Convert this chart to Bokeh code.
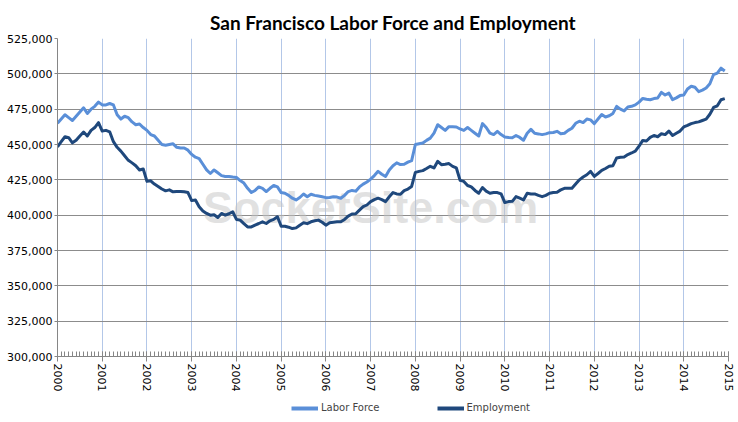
import pandas as pd
from bokeh.plotting import figure
from bokeh.layouts import column
from bokeh.models import FixedTicker, NumeralTickFormatter, Legend, LegendItem, Range1d, Label
from bokeh.embed import file_html
from bokeh.resources import INLINE

chart_title = "San Francisco Labor Force and Employment"
months = pd.date_range("2000-01-01", "2014-12-01", freq="MS")

labor_force = [
    465000, 468000, 471000, 469000, 467000, 470000, 473000, 476000, 472000, 475000, 477000, 480000,
    478000, 478000, 479000, 478000, 471000, 468000, 470000, 469000, 466000, 464000, 464500, 462000,
    460000, 457000, 456000, 453000, 450000, 449500, 450000, 450500, 448000, 447500, 447500, 446000,
    443000, 441000, 440000, 436000, 432000, 429500, 432000, 430000, 428000, 427400, 427400, 427000,
    426700, 424500, 422700, 419000, 416000, 417500, 420000, 419000, 416700, 419000, 421000, 420000,
    416000, 415500, 414000, 412000, 410800, 412500, 415000, 413000, 414800, 414000, 413500, 413000,
    412400, 412500, 413000, 412800, 412000, 414000, 416700, 417500, 417000, 420000, 422000, 423500,
    425500, 428000, 431000, 429000, 427400, 432000, 435000, 437000, 435800, 436000, 437500, 438600,
    450000, 450500, 451000, 452900, 454500, 458000, 464000, 462000, 460000, 462600, 462500, 462400,
    461000, 460000, 462000, 460000, 458000, 456000, 464800, 462000, 458000, 457000, 459300, 457000,
    455300, 455000, 454800, 456400, 455000, 453000, 458000, 460700, 457900, 457500, 457000, 457500,
    458400, 458500, 459300, 457600, 458000, 460000, 461500, 465000, 466500, 465500, 468000, 467400,
    464800, 468000, 471200, 469500, 470300, 472000, 477000, 475000, 473800, 476500, 477000, 478000,
    480000, 482600, 482000, 481700, 482500, 482900, 486900, 485000, 486400, 481700, 483000, 484600,
    485000, 489300, 491200, 490500, 487400, 488500, 490000, 493000, 499500, 500500, 504000, 502000,
]

employment = [
    448400, 452000, 455500, 454800, 451200, 453000, 456000, 458800, 456000, 460000, 462000, 465500,
    459500, 460000, 459000, 452000, 448000, 445300, 442000, 438800, 437000, 435000, 432000, 432700,
    423900, 424300, 422000, 420300, 418500, 417200, 417900, 416500, 416800, 416800, 416500, 416000,
    410300, 410800, 406000, 403000, 401200, 400000, 400300, 398400, 401200, 400000, 401000, 402400,
    397000, 396500, 394000, 391700, 391700, 393000, 394100, 395300, 394100, 396000, 397000, 398900,
    392200, 392200, 391500, 390500, 391000, 392900, 394600, 394000, 395300, 396000, 396500, 395000,
    392900, 394600, 395000, 395300, 395300, 397000, 399300, 400800, 401000, 403600, 406000, 407200,
    409600, 411000, 412000, 411000, 409600, 413000, 416000, 415000, 414800, 417400, 418500, 420300,
    430300, 431000, 431500, 433000, 434600, 433400, 438100, 435700, 436000, 436500, 434500, 433400,
    424600, 423900, 421000, 420000, 417500, 415500, 419600, 417000, 415500, 416000, 416000, 415000,
    408900, 409600, 409800, 413100, 412000, 410800, 415500, 415000, 415000, 414000, 413100, 414000,
    415500, 416000, 416200, 417900, 419000, 419000, 419000, 422000, 425000, 427000, 428600, 431000,
    427400, 429500, 431700, 433000, 434600, 435000, 440500, 441000, 441200, 442900, 444000, 445300,
    448800, 452900, 452500, 455000, 456400, 455500, 457600, 457000, 459500, 456400, 458000, 459500,
    462400, 463500, 464800, 465500, 466000, 467000, 467900, 471400, 476200, 477400, 481700, 482500,
]

year_ticks = list(range(2000, 2016))
y_ticks = list(range(300000, 525001, 25000))
series_names = ["Labor Force", "Employment"]
series_colors = ["#5a8fd8", "#1f487c"]
watermark = "SocketSite.com"

x = [d.year + (d.month - 1) / 12 for d in months]
minor = [2000 + i / 12 for i in range(0, 181)]

W = 736
p = figure(width=W, height=394, output_backend="svg", toolbar_location=None,
           x_range=Range1d(year_ticks[0], year_ticks[-1]),
           y_range=Range1d(y_ticks[0], y_ticks[-1]),
           min_border_left=57, min_border_right=8, min_border_top=38, min_border_bottom=38)

p.title.text = chart_title
p.title.text_font = "Lato"
p.title.text_font_style = "bold"
p.title.text_font_size = "19px"
p.title.text_color = "black"
p.title.align = "center"
p.title.offset = -13

p.outline_line_color = None
p.background_fill_color = "white"
p.border_fill_color = "white"

# watermark
p.add_layout(Label(x=(year_ticks[0] + year_ticks[-1]) / 2 - 0.5, y=405500, text=watermark,
                   text_font="Liberation Sans", text_font_style="bold", text_font_size="45px",
                   text_color="#c4c4c4", text_alpha=0.5, text_align="center",
                   text_baseline="middle", level="underlay"))

r1 = p.line(x, labor_force, line_width=3, color=series_colors[0], line_join="round")
r2 = p.line(x, employment, line_width=3, color=series_colors[1], line_join="round")

xa = p.xaxis[0]
xa.ticker = FixedTicker(ticks=year_ticks, minor_ticks=minor)
xa.major_label_orientation = "vertical"
xa.major_label_text_font = "DejaVu Sans"
xa.major_label_text_font_size = "11px"
xa.major_label_text_color = "black"
xa.axis_line_color = "#868686"
xa.major_tick_line_color = "#868686"
xa.minor_tick_line_color = "#868686"
xa.major_tick_in = 5
xa.major_tick_out = 5
xa.minor_tick_in = 5
xa.minor_tick_out = 0
xa.major_label_standoff = 2

ya = p.yaxis[0]
ya.ticker = FixedTicker(ticks=y_ticks)
ya.formatter = NumeralTickFormatter(format="0,0")
ya.major_label_text_font = "DejaVu Sans"
ya.major_label_text_font_size = "11px"
ya.major_label_text_color = "black"
ya.axis_line_color = "#868686"
ya.major_tick_line_color = "#868686"
ya.major_tick_in = 0
ya.major_tick_out = 3
ya.minor_tick_line_color = None
ya.major_label_standoff = 2

p.xgrid.grid_line_color = "#b3c7e8"
p.xgrid.grid_line_width = 1
p.ygrid.grid_line_color = "#8c8c8c"
p.ygrid.grid_line_width = 1

# legend strip below the chart (series drawn off-range, only their legend swatches show)
leg = figure(width=W, height=22, output_backend="svg", toolbar_location=None,
             x_axis_location=None, y_axis_location=None,
             x_range=Range1d(0, 1), y_range=Range1d(0, 1),
             min_border_left=0, min_border_right=0, min_border_top=0, min_border_bottom=0)
leg.grid.visible = False
leg.outline_line_color = None
l1 = leg.line(x, labor_force, line_width=4, color=series_colors[0])
l2 = leg.line(x, employment, line_width=4, color=series_colors[1])
legend = Legend(items=[LegendItem(label=series_names[0], renderers=[l1]),
                       LegendItem(label=series_names[1], renderers=[l2])],
                orientation="horizontal", location=(234, 3),
                border_line_color=None, background_fill_alpha=0,
                label_text_font="DejaVu Sans", label_text_font_size="10px",
                glyph_width=27, glyph_height=10, label_height=10, label_standoff=3, spacing=57,
                padding=1, margin=0)
leg.add_layout(legend)

open("out.html", "w").write(file_html(column(p, leg, spacing=0), INLINE))
